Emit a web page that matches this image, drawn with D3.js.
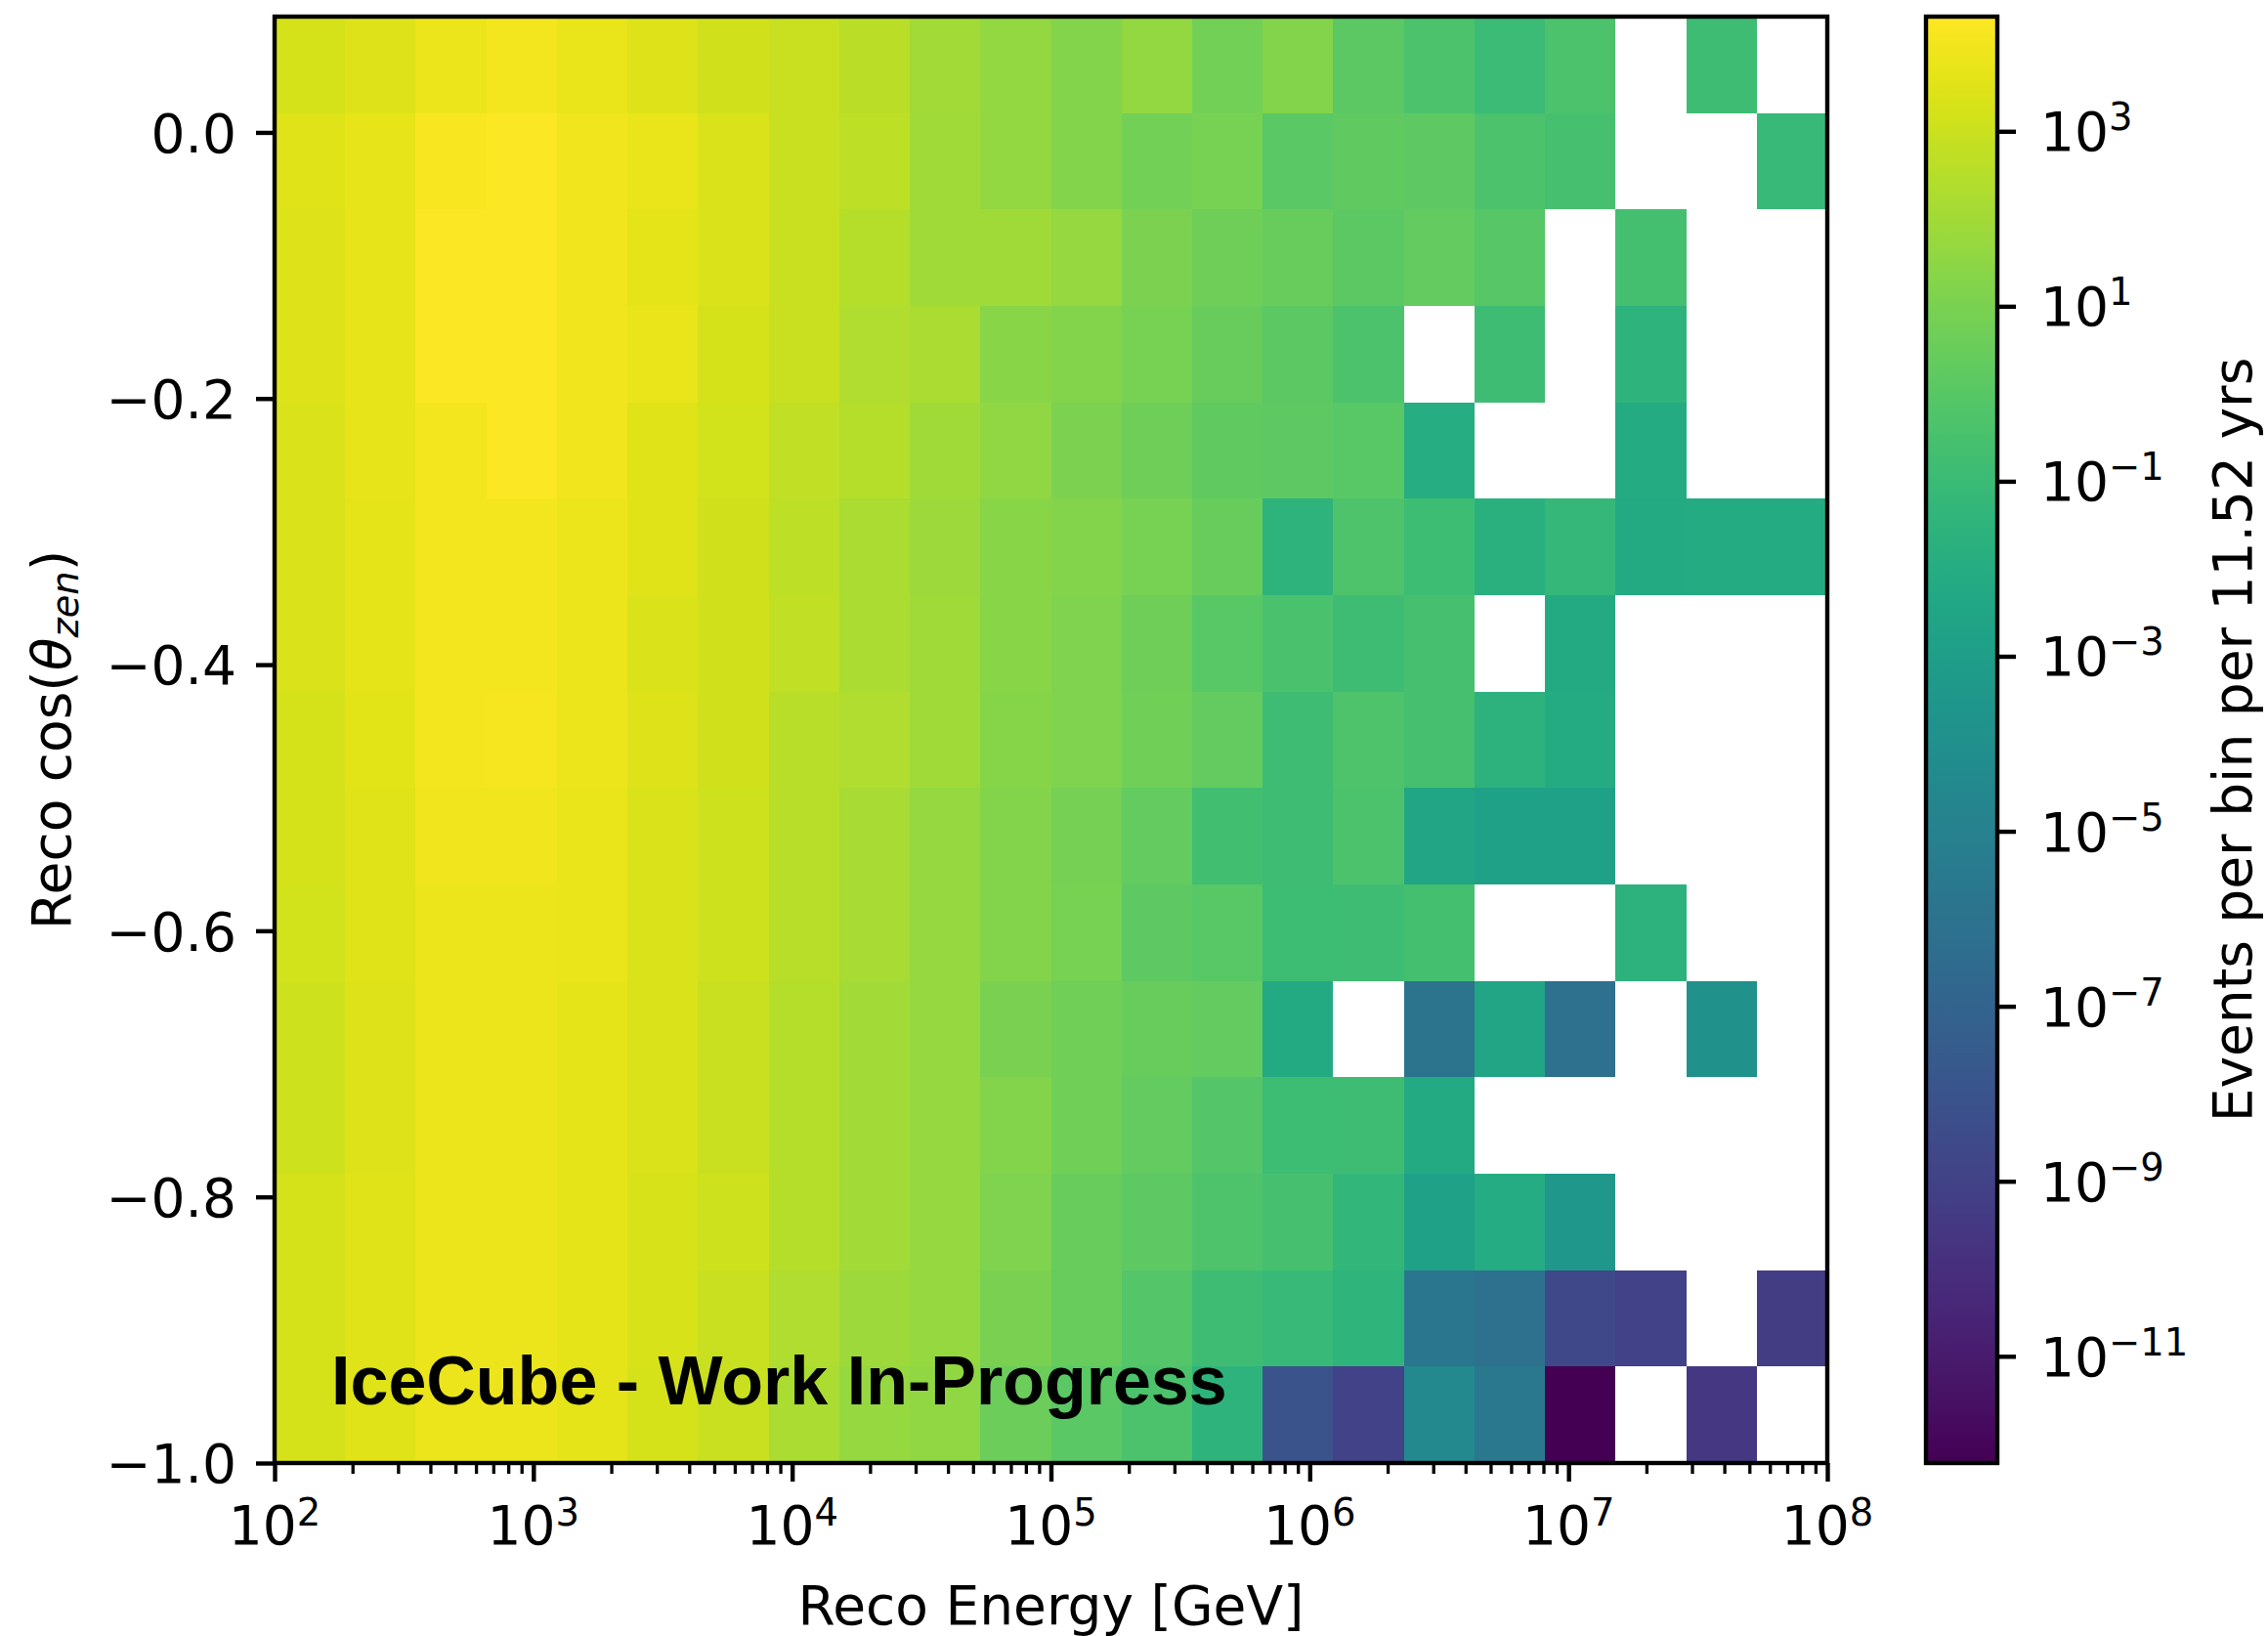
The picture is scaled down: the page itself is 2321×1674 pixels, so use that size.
<!DOCTYPE html>
<html lang="en">
	<head>
		<meta charset="utf-8">
		<title>Reco Energy vs Reco cos(zenith)</title>
		<script type="text/javascript" src="https://cdn.jsdelivr.net/npm/d3@7/dist/d3.min.js"></script>
		<style type="text/css">
			body { margin: 0; background: white; }
			text { font-family: "DejaVu Sans", sans-serif; fill: black; }
		</style>
	</head>
	<body>
		<script type="text/javascript">

			//Bin edges: log10(reco energy / GeV) and reco cos(zenith), ascending
			var energyEdgeExps = [2.0000, 2.2727, 2.5455, 2.8182, 3.0909, 3.3636, 3.6364, 3.9091,
								  4.1818, 4.4545, 4.7273, 5.0000, 5.2727, 5.5455, 5.8182, 6.0909,
								  6.3636, 6.6364, 6.9091, 7.1818, 7.4545, 7.7273, 8.0000];
			var cosZenEdges = [-1.0000, -0.9275, -0.8551, -0.7826, -0.7101, -0.6377, -0.5652, -0.4927,
							   -0.4203, -0.3478, -0.2753, -0.2029, -0.1304, -0.0579, 0.0145, 0.0870];

			//log10(events per bin per 11.52 yrs), one array per cos bin, row0 = top bin, null = empty
			var row0  = [3.27, 3.45, 3.85, 4.02, 3.74, 3.45, 3.14, 2.93, 2.61, 2.05, 1.64, 1.23, 1.64, 0.79, 1.22, 0.14, -0.35, -0.98, -0.35, null, -0.82, null];
			var row1  = [3.48, 3.71, 4.14, 4.22, 3.95, 3.74, 3.38, 2.93, 2.66, 1.98, 1.64, 1.23, 0.79, 0.92, 0.09, 0.30, 0.18, -0.35, -0.55, null, null, -1.06];
			var row2  = [3.42, 3.71, 4.22, 4.22, 3.95, 3.65, 3.37, 2.89, 2.47, 1.98, 1.98, 1.71, 1.04, 0.64, 0.44, 0.14, 0.35, -0.07, null, -0.65, null, null];
			var row3  = [3.42, 3.71, 4.19, 4.22, 3.95, 3.74, 3.27, 2.89, 2.31, 2.18, 1.40, 1.23, 0.92, 0.44, 0.14, -0.35, null, -0.82, null, -1.56, null, null];
			var row4  = [3.38, 3.71, 4.02, 4.22, 3.95, 3.53, 3.19, 2.76, 2.47, 1.98, 1.55, 1.05, 0.64, 0.30, 0.18, 0.01, -1.97, null, null, -2.13, null, null];
			var row5  = [3.38, 3.65, 4.02, 4.02, 3.81, 3.53, 3.14, 2.66, 2.18, 1.91, 1.40, 1.23, 0.92, 0.44, -1.53, -0.32, -0.86, -1.72, -1.20, -2.18, -2.13, -2.13];
			var row6  = [3.38, 3.65, 4.02, 4.02, 3.81, 3.38, 3.14, 2.76, 2.18, 1.98, 1.40, 1.09, 0.64, 0.01, -0.42, -0.82, -0.55, null, -2.18, null, null, null];
			var row7  = [3.27, 3.58, 4.02, 4.08, 3.81, 3.45, 3.10, 2.56, 2.31, 1.98, 1.29, 1.09, 0.74, 0.35, -0.82, -0.32, -0.55, -1.61, -2.13, null, null, null];
			var row8  = [3.27, 3.53, 3.95, 3.95, 3.74, 3.38, 3.07, 2.56, 2.12, 1.71, 1.23, 0.83, 0.35, -0.68, -0.82, -0.35, -2.50, -2.82, -2.82, null, null, null];
			var row9  = [3.19, 3.53, 3.85, 3.85, 3.74, 3.38, 3.02, 2.56, 2.12, 1.71, 1.23, 0.92, 0.18, 0.01, -0.91, -0.82, -0.65, null, null, -1.61, null, null];
			var row10 = [3.07, 3.45, 3.81, 3.81, 3.65, 3.38, 2.93, 2.47, 2.05, 1.71, 0.97, 0.74, 0.44, 0.35, -2.18, null, -5.94, -2.50, -6.14, null, -3.92, null];
			var row11 = [3.07, 3.45, 3.81, 3.81, 3.65, 3.38, 2.93, 2.47, 2.05, 1.71, 1.23, 0.74, 0.35, -0.10, -0.91, -0.82, -2.18, null, null, null, null, null];
			var row12 = [3.27, 3.53, 3.85, 3.85, 3.65, 3.33, 3.02, 2.47, 2.05, 1.71, 1.09, 0.44, 0.18, -0.32, -0.55, -1.36, -2.82, -2.06, -3.46, null, null, null];
			var row13 = [3.27, 3.53, 3.85, 3.85, 3.65, 3.33, 2.93, 2.36, 1.91, 1.71, 0.97, 0.44, -0.10, -0.82, -1.11, -1.49, -5.74, -6.11, -8.65, -8.98, null, -9.31];
			var row14 = [3.27, 3.53, 3.81, 3.81, 3.65, 3.27, 2.89, 2.18, 1.71, 1.55, 0.61, 0.11, -0.35, -1.53, -8.00, -8.98, -4.44, -5.61, -12.20, null, -9.62, null];
			var rows = [row0, row1, row2, row3, row4, row5, row6, row7, row8, row9, row10, row11, row12, row13, row14];

			//Ticks and colour limits
			var energyTickExps = [2, 3, 4, 5, 6, 7, 8];
			var cosZenTicks = [0.0, -0.2, -0.4, -0.6, -0.8, -1.0];
			var colorTickExps = [3, 1, -1, -3, -5, -7, -9, -11];
			var colorLimitExps = [-12.22, 4.31];

			//Layout
			var w = 2321;
			var h = 1674;
			var plotLeft = 281, plotRight = 1870, plotTop = 17, plotBottom = 1497;
			var cbarLeft = 1971, cbarRight = 2044;
			var fontSize = 55;
			var supSize = 38.5;
			var lineW = 4.4;

			//Scales
			var xScale = d3.scaleLog()
							.domain([Math.pow(10, energyEdgeExps[0]), Math.pow(10, energyEdgeExps[energyEdgeExps.length - 1])])
							.range([plotLeft, plotRight]);

			var yScale = d3.scaleLinear()
							.domain([cosZenEdges[0], cosZenEdges[cosZenEdges.length - 1]])
							.range([plotBottom, plotTop]);

			var colorScale = d3.scaleSequentialLog(d3.interpolateViridis)
							.domain([Math.pow(10, colorLimitExps[0]), Math.pow(10, colorLimitExps[1])]);

			var cScale = d3.scaleLog()
							.domain(colorScale.domain())
							.range([plotBottom, plotTop]);

			//SVG
			var svg = d3.select("body")
						.append("svg")
						.attr("width", w)
						.attr("height", h);

			//Flatten the rows into cells
			var nRows = rows.length;
			var cells = [];
			rows.forEach(function(row, r) {
				row.forEach(function(v, c) {
					if (v !== null) {
						cells.push({ r: r, c: c, value: Math.pow(10, v) });
					}
				});
			});

			//Heatmap cells
			svg.append("g")
			   .selectAll("rect")
			   .data(cells)
			   .enter()
			   .append("rect")
			   .attr("x", function(d) {
			   		return xScale(Math.pow(10, energyEdgeExps[d.c]));
			   })
			   .attr("y", function(d) {
			   		return yScale(cosZenEdges[nRows - d.r]);
			   })
			   .attr("width", function(d) {
			   		return xScale(Math.pow(10, energyEdgeExps[d.c + 1])) - xScale(Math.pow(10, energyEdgeExps[d.c]));
			   })
			   .attr("height", function(d) {
			   		return yScale(cosZenEdges[nRows - d.r - 1]) - yScale(cosZenEdges[nRows - d.r]);
			   })
			   .attr("shape-rendering", "crispEdges")
			   .attr("fill", function(d) {
			   		return colorScale(d.value);
			   });

			//IceCube label
			svg.append("text")
			   .attr("x", 339)
			   .attr("y", 1437)
			   .style("font-family", "'Liberation Sans', Arial, Helvetica, sans-serif")
			   .style("font-weight", "bold")
			   .style("font-size", "70px")
			   .text("IceCube - Work In-Progress");

			//X axis: major and minor ticks
			var minorTicks = [];
			energyTickExps.slice(0, -1).forEach(function(e) {
				for (var k = 2; k <= 9; k++) {
					minorTicks.push(k * Math.pow(10, e));
				}
			});

			var xMinor = svg.append("g")
							.attr("transform", "translate(0," + plotBottom + ")")
							.call(d3.axisBottom(xScale).tickValues(minorTicks).tickSize(11).tickFormat(""));
			xMinor.selectAll("line").attr("stroke-width", 3.3);

			var xMajor = svg.append("g")
							.attr("transform", "translate(0," + plotBottom + ")")
							.call(d3.axisBottom(xScale)
									.tickValues(energyTickExps.map(function(e) { return Math.pow(10, e); }))
									.tickSize(19)
									.tickFormat(""));
			xMajor.selectAll("line").attr("stroke-width", lineW);
			svg.selectAll(".domain").remove();

			//X tick labels with superscript exponents
			var xLabels = svg.append("g")
							 .selectAll("text")
							 .data(energyTickExps)
							 .enter()
							 .append("text")
							 .attr("x", function(d) {
							 	return xScale(Math.pow(10, d));
							 })
							 .attr("y", 1580)
							 .attr("text-anchor", "middle")
							 .style("font-size", fontSize + "px");
			xLabels.append("tspan").text("10");
			xLabels.append("tspan")
				   .attr("dy", -19)
				   .style("font-size", supSize + "px")
				   .text(function(d) { return d; });

			//Y axis
			var yAxis = svg.append("g")
						   .attr("transform", "translate(" + plotLeft + ",0)")
						   .call(d3.axisLeft(yScale)
						   		.tickValues(cosZenTicks)
						   		.tickSize(19)
						   		.tickPadding(20)
						   		.tickFormat(d3.format(".1f")));
			yAxis.select(".domain").remove();
			yAxis.selectAll("line").attr("stroke-width", lineW);
			yAxis.selectAll("text")
				 .attr("dy", "0.36em")
				 .attr("font-family", null)
				 .attr("font-size", null)
				 .style("font-size", fontSize + "px");

			//Plot frame
			svg.append("rect")
			   .attr("x", plotLeft)
			   .attr("y", plotTop)
			   .attr("width", plotRight - plotLeft)
			   .attr("height", plotBottom - plotTop)
			   .attr("fill", "none")
			   .attr("stroke", "black")
			   .attr("stroke-width", lineW);

			//Axis titles
			svg.append("text")
			   .attr("x", (plotLeft + plotRight) / 2)
			   .attr("y", 1662)
			   .attr("text-anchor", "middle")
			   .style("font-size", fontSize + "px")
			   .text("Reco Energy [GeV]");

			var yTitle = svg.append("text")
							.attr("transform", "translate(72," + (plotTop + plotBottom) / 2 + ") rotate(-90)")
							.attr("text-anchor", "middle")
							.style("font-size", fontSize + "px");
			yTitle.append("tspan").text("Reco cos(");
			yTitle.append("tspan").style("font-style", "italic").text("\u03b8");
			yTitle.append("tspan")
				  .attr("dy", 8)
				  .style("font-style", "italic")
				  .style("font-size", supSize + "px")
				  .text("zen");
			yTitle.append("tspan").attr("dy", -8).text(")");

			//Colour bar gradient
			var defs = svg.append("defs");
			var grad = defs.append("linearGradient")
						   .attr("id", "viridis")
						   .attr("x1", 0).attr("y1", 1)
						   .attr("x2", 0).attr("y2", 0);
			grad.selectAll("stop")
				.data(d3.range(0, 1.0001, 0.01))
				.enter()
				.append("stop")
				.attr("offset", function(d) { return d; })
				.attr("stop-color", function(d) { return d3.interpolateViridis(d); });

			svg.append("rect")
			   .attr("x", cbarLeft)
			   .attr("y", plotTop)
			   .attr("width", cbarRight - cbarLeft)
			   .attr("height", plotBottom - plotTop)
			   .attr("fill", "url(#viridis)")
			   .attr("stroke", "black")
			   .attr("stroke-width", lineW);

			//Colour bar ticks and labels
			var cAxis = svg.append("g")
						   .attr("transform", "translate(" + cbarRight + ",0)")
						   .call(d3.axisRight(cScale)
						   		.tickValues(colorTickExps.map(function(e) { return Math.pow(10, e); }))
						   		.tickSize(19)
						   		.tickFormat(""));
			cAxis.select(".domain").remove();
			cAxis.selectAll("line").attr("stroke-width", lineW);

			var cLabels = svg.append("g")
							 .selectAll("text")
							 .data(colorTickExps)
							 .enter()
							 .append("text")
							 .attr("x", 2088)
							 .attr("y", function(d) {
							 	return cScale(Math.pow(10, d)) + 20;
							 })
							 .style("font-size", fontSize + "px");
			cLabels.append("tspan").text("10");
			cLabels.append("tspan")
				   .attr("dy", -21)
				   .style("font-size", supSize + "px")
				   .text(function(d) { return d < 0 ? "\u2212" + (-d) : d; });

			svg.append("text")
			   .attr("transform", "translate(2304," + (plotTop + plotBottom) / 2 + ") rotate(-90)")
			   .attr("text-anchor", "middle")
			   .style("font-size", fontSize + "px")
			   .text("Events per bin per 11.52 yrs");

		</script>
	</body>
</html>
